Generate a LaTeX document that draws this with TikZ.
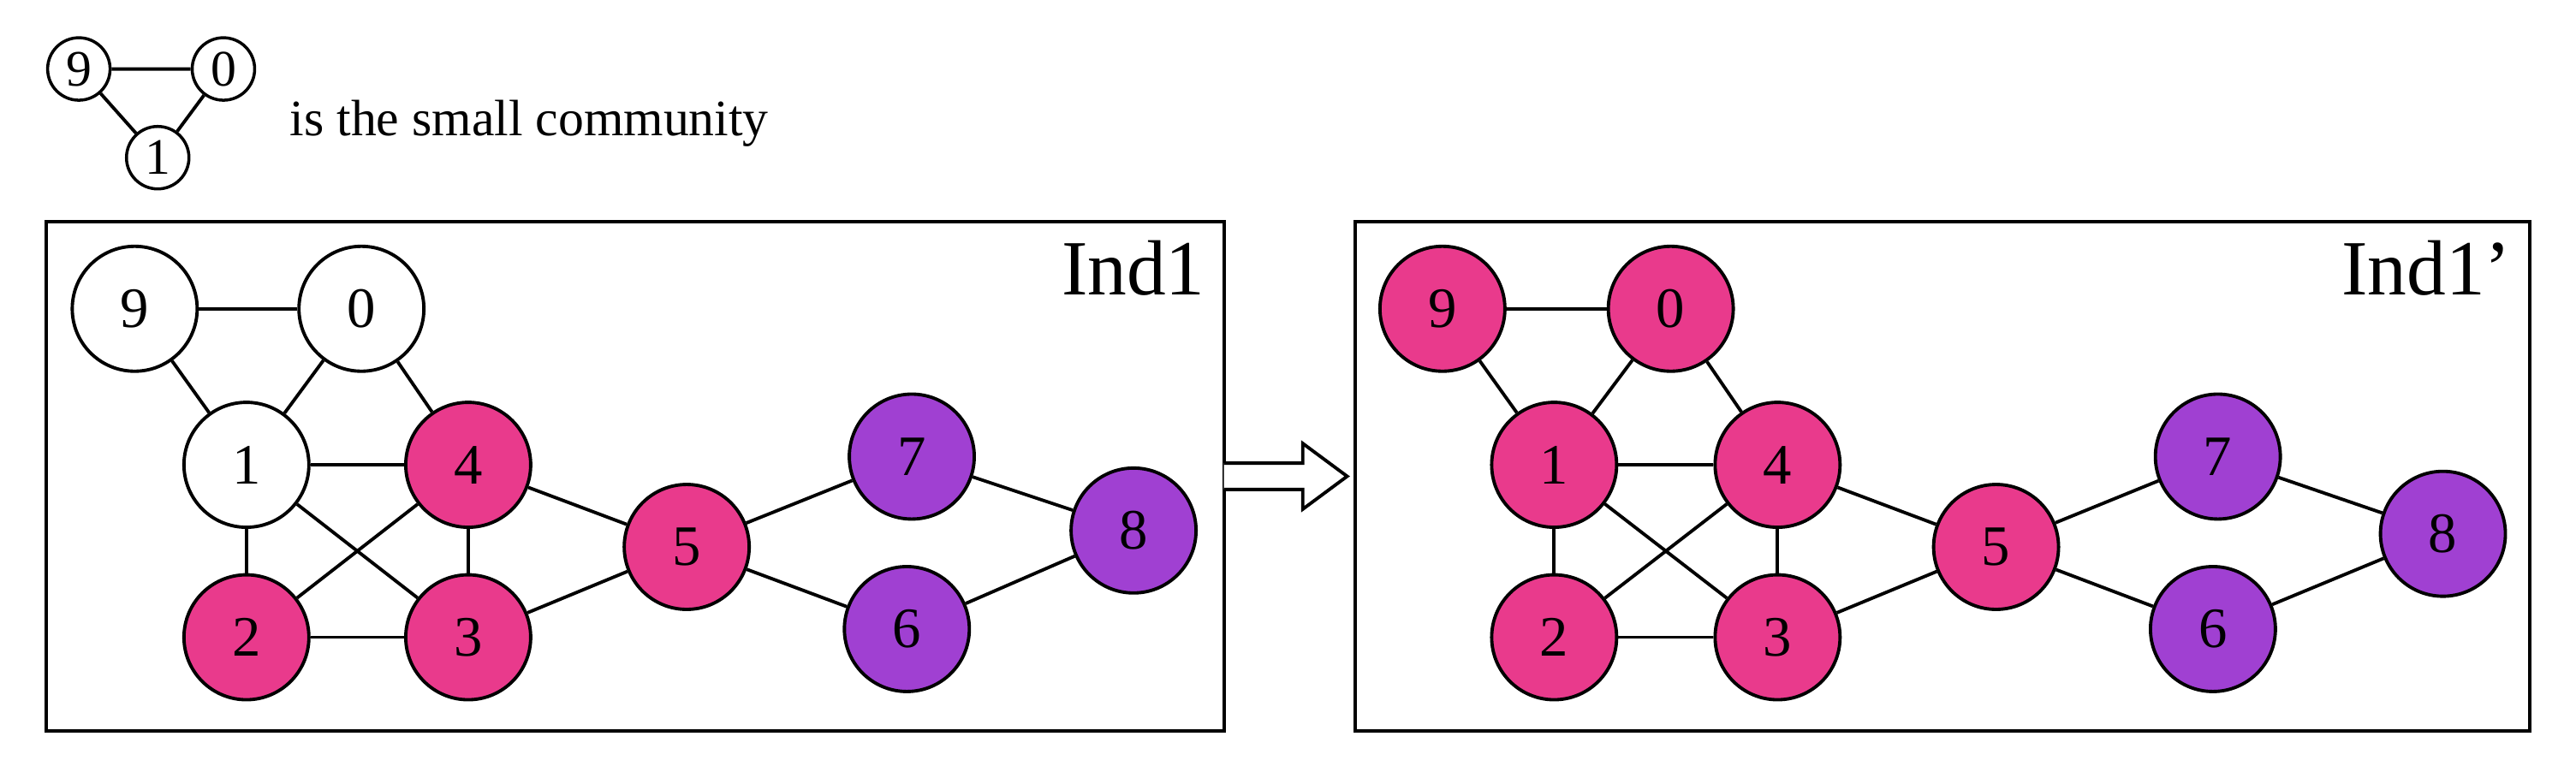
\documentclass[tikz,border=0pt]{standalone}
\usepackage{fontspec}
\setmainfont{Liberation Serif}
\definecolor{CommPink}{RGB}{233,58,140}
\definecolor{CommPurple}{RGB}{160,64,210}
\begin{document}
\begin{tikzpicture}[x=0.01919cm, y=-0.01919cm,
    vtx/.style={circle, draw, line width=1.1pt, minimum size=1.46cm, inner sep=0pt, font=\fontsize{19}{19}\selectfont},
    small/.style={circle, draw, line width=1pt, minimum size=0.73cm, inner sep=0pt, font=\fontsize{17}{17}\selectfont},
    pk/.style={vtx, fill=CommPink},
    pu/.style={vtx, fill=CommPurple},
    wh/.style={vtx, fill=white},
    edge/.style={line width=1.1pt},
    box/.style={draw, line width=1.2pt}]
  \useasboundingbox (0,0) rectangle (1568,477);

  % legend
  \node[small] (s9) at (48,42) {9};
  \node[small] (s0) at (136,42) {0};
  \node[small] (s1) at (96,96) {1};
  \draw[edge] (s9) -- (s0) (s9) -- (s1) (s0) -- (s1);
  \node[anchor=west, font=\fontsize{17}{17}\selectfont] (lt) at (170,75) {is the small community};

  % frames
  \draw[box] (28,135) rectangle (745,445);
  \draw[box] (825,135) rectangle (1540,445);
  \node[anchor=north east, font=\fontsize{26}{26}\selectfont] (t1) at (740,140) {Ind1};
  \node[anchor=north east, font=\fontsize{26}{26}\selectfont] (t2) at (1535,140) {Ind1'};

  % left graph
  \node[wh] (a9) at (82,188) {9};
  \node[wh] (a0) at (220,188) {0};
  \node[wh] (a1) at (150,283) {1};
  \node[pk] (a4) at (285,283) {4};
  \node[pk] (a2) at (150,388) {2};
  \node[pk] (a3) at (285,388) {3};
  \node[pk] (a5) at (418,333) {5};
  \node[pu] (a7) at (555,278) {7};
  \node[pu] (a6) at (552,383) {6};
  \node[pu] (a8) at (690,323) {8};

  % right graph
  \node[pk] (b9) at (878,188) {9};
  \node[pk] (b0) at (1017,188) {0};
  \node[pk] (b1) at (946,283) {1};
  \node[pk] (b4) at (1082,283) {4};
  \node[pk] (b2) at (946,388) {2};
  \node[pk] (b3) at (1082,388) {3};
  \node[pk] (b5) at (1215,333) {5};
  \node[pu] (b7) at (1350,278) {7};
  \node[pu] (b6) at (1347,383) {6};
  \node[pu] (b8) at (1487,325) {8};

  \foreach \g in {a,b}{
    \foreach \u/\v in {9/0,9/1,0/1,0/4,1/4,1/2,1/3,4/2,4/3,2/3,4/5,3/5,5/7,5/6,7/8,6/8}
      \draw[edge] (\g\u) -- (\g\v);
  }

  % transition arrow
  \coordinate (p) at (745,290);
  \draw[line width=1.1pt, fill=white] (745,282) -- (793,282) -- (793,270) -- (820,290)
    -- (793,310) -- (793,298) -- (745,298);
\end{tikzpicture}
\end{document}
